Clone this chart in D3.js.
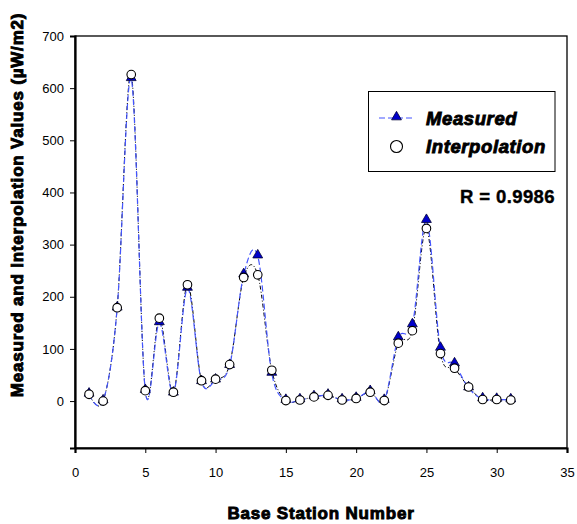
<!DOCTYPE html>
<html>
<head>
<meta charset="utf-8">
<script src="https://cdn.jsdelivr.net/npm/d3@7"></script>
<style>
  html, body { margin: 0; padding: 0; background: #fff; }
  svg { display: block; font-family: "Liberation Sans", Arial, sans-serif; }
</style>
</head>
<body>
<svg id="chart" width="577" height="524"></svg>
<script>
// Base station numbers 1..31
const stations = [1,2,3,4,5,6,7,8,9,10,11,12,13,14,15,16,17,18,19,20,21,22,23,24,25,26,27,28,29,30,31];
// Measured power density (µW/m2)
const measured = [13,0,178,618,20,150,15,216,37,40,68,242,278,53,1,2,8,11,2,5,18,1,121,146,346,101,71,25,4,3,2];
// Interpolated power density (µW/m2)
const interpolation = [13,0,179,626,20,159,17,223,39,42,70,237,242,59,1,2,8,11,2,5,17,1,111,135,331,91,63,27,3,3,2];
const xTicks = [0,5,10,15,20,25,30,35];
const yTicks = [0,100,200,300,400,500,600,700];

(function () {
const svg = d3.select("#chart");
const pLeft = 75, pRight = 567, pTop = 36, pBottom = 448;

const x = d3.scaleLinear().domain([0, 35]).range([pLeft, pRight]);
const y = d3.scaleLinear().domain([-90, 700]).range([pBottom, pTop]);

// plot frame (thin top/right edges)
svg.append("rect")
  .attr("x", pLeft).attr("y", pTop)
  .attr("width", pRight - pLeft).attr("height", pBottom - pTop)
  .attr("fill", "none").attr("stroke", "#000").attr("stroke-width", 1.3);

// axes
const yAxis = d3.axisLeft(y).tickValues(yTicks).tickSize(5).tickPadding(6);
const xAxis = d3.axisBottom(x).tickValues(xTicks).tickSize(5).tickPadding(15);

const gy = svg.append("g").attr("transform", `translate(${pLeft},0)`).call(yAxis);
const gx = svg.append("g").attr("transform", `translate(0,${pBottom})`).call(xAxis);
[gx, gy].forEach(g => {
  g.select(".domain").attr("stroke", "#000").attr("stroke-width", 2.2);
  g.selectAll(".tick line").attr("stroke", "#000").attr("stroke-width", 1);
  g.selectAll(".tick text").attr("font-size", 13).attr("fill", "#000")
    .attr("font-family", "'Liberation Sans', Arial, sans-serif");
});

// smoothed series lines
const lineFor = vals => d3.line()
  .x((d, i) => x(stations[i]))
  .y(d => y(d))
  .curve(d3.curveCatmullRom.alpha(0))(vals);

svg.append("path")
  .attr("d", lineFor(interpolation))
  .attr("fill", "none").attr("stroke", "#000")
  .attr("stroke-width", 1).attr("stroke-dasharray", "4,2,1,2");

svg.append("path")
  .attr("d", lineFor(measured))
  .attr("fill", "none").attr("stroke", "#4455ff")
  .attr("stroke-width", 1.2).attr("stroke-dasharray", "6,3");

// markers
const tri = d3.symbol().type(d3.symbolTriangle).size(42);
svg.append("g").selectAll("path")
  .data(measured).join("path")
  .attr("d", tri)
  .attr("transform", (d, i) => `translate(${x(stations[i])},${y(d) - 1})`)
  .attr("fill", "#0000cc").attr("stroke", "#000033").attr("stroke-width", 0.8);

svg.append("g").selectAll("circle")
  .data(interpolation).join("circle")
  .attr("cx", (d, i) => x(stations[i]))
  .attr("cy", d => y(d))
  .attr("r", 4.3)
  .attr("fill", "#fff").attr("stroke", "#000").attr("stroke-width", 1.1);

// legend
const lg = svg.append("g");
lg.append("rect").attr("x", 368.5).attr("y", 91.5).attr("width", 186.5).attr("height", 80)
  .attr("fill", "#fff").attr("stroke", "#000").attr("stroke-width", 1);
lg.append("line").attr("x1", 379).attr("x2", 414).attr("y1", 118).attr("y2", 118)
  .attr("stroke", "#4455ff").attr("stroke-width", 1.2).attr("stroke-dasharray", "6,3");
lg.append("path").attr("d", tri).attr("transform", "translate(396.5,117)")
  .attr("fill", "#0000cc").attr("stroke", "#000033").attr("stroke-width", 0.8);
lg.append("circle").attr("cx", 396.5).attr("cy", 146.5).attr("r", 6)
  .attr("fill", "#fff").attr("stroke", "#000").attr("stroke-width", 1.1);
const legendText = (t, yy) => lg.append("text")
  .attr("x", 426).attr("y", yy).text(t)
  .attr("font-size", 18.5).attr("font-weight", "bold").attr("font-style", "italic")
  .attr("letter-spacing", 0.6)
  .attr("stroke", "#000").attr("stroke-width", 0.9).attr("fill", "#000");
legendText("Measured", 125);
legendText("Interpolation", 153);

// correlation note
svg.append("text").attr("x", 555).attr("y", 203).attr("text-anchor", "end")
  .attr("font-size", 18.5).attr("font-weight", "bold").attr("fill", "#000")
  .attr("letter-spacing", 0.4).attr("stroke", "#000").attr("stroke-width", 0.4)
  .text("R = 0.9986");

// axis titles
svg.append("text")
  .attr("x", (pLeft + pRight) / 2).attr("y", 519).attr("text-anchor", "middle")
  .attr("font-size", 17).attr("font-weight", "bold").attr("fill", "#000")
  .attr("letter-spacing", 0.8)
  .attr("stroke", "#000").attr("stroke-width", 0.9)
  .text("Base Station Number");

svg.append("text")
  .attr("transform", "translate(23,205) rotate(-90)")
  .attr("text-anchor", "middle")
  .attr("font-size", 17).attr("font-weight", "bold").attr("fill", "#000")
  .attr("letter-spacing", 0.8)
  .attr("stroke", "#000").attr("stroke-width", 0.9)
  .text("Measured and Interpolation Values (µW/m2)");
})();
</script>
</body>
</html>
